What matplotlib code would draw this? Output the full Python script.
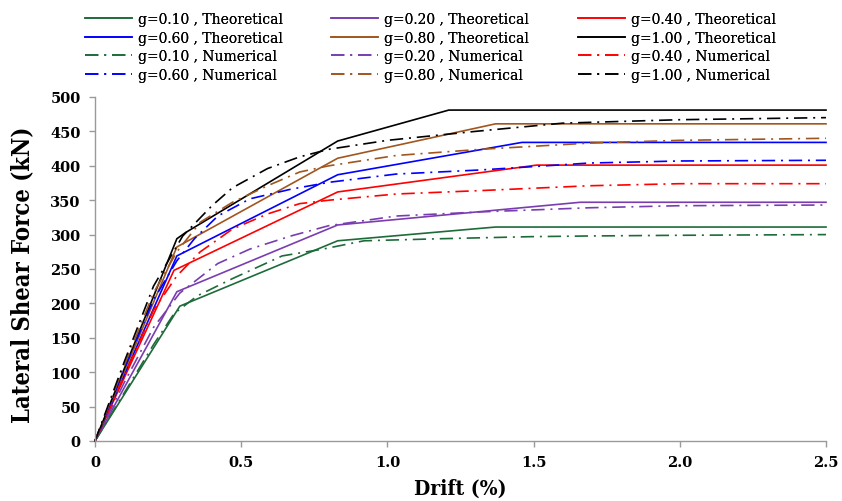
import matplotlib
matplotlib.use("Agg")
import matplotlib.pyplot as plt

# ---------------- data ----------------
g_labels = ["0.10", "0.20", "0.40", "0.60", "0.80", "1.00"]
colors = ["#1E6B3A", "#7A3DB0", "#FF0000", "#0000FF", "#A0561E", "#000000"]

theo_x_010 = [0, 0.29, 0.83, 1.37, 2.5]
theo_y_010 = [0, 196, 291, 311, 311]
theo_x_020 = [0, 0.28, 0.83, 1.66, 2.5]
theo_y_020 = [0, 217, 314, 347, 347]
theo_x_040 = [0, 0.27, 0.83, 1.51, 2.5]
theo_y_040 = [0, 248, 362, 401, 401]
theo_x_060 = [0, 0.28, 0.83, 1.46, 2.5]
theo_y_060 = [0, 269, 387, 434, 434]
theo_x_080 = [0, 0.28, 0.83, 1.37, 2.5]
theo_y_080 = [0, 282, 411, 461, 461]
theo_x_100 = [0, 0.28, 0.31, 0.83, 1.21, 2.5]
theo_y_100 = [0, 294, 303, 436, 481, 481]

num_x_010 = [0, 0.1, 0.2, 0.27, 0.35, 0.47, 0.64, 0.78, 0.92, 1.18, 1.49, 1.69, 2.0, 2.5]
num_y_010 = [0, 70, 140, 185, 211, 236, 269, 279, 291, 294, 297, 298, 299, 300]
num_x_020 = [0, 0.1, 0.2, 0.29, 0.42, 0.53, 0.67, 0.8, 1.03, 1.32, 1.69, 2.0, 2.5]
num_y_020 = [0, 85, 165, 215, 258, 279, 298, 313, 327, 333, 339, 342, 343]
num_x_040 = [0, 0.1, 0.2, 0.28, 0.36, 0.47, 0.59, 0.70, 0.8, 1.03, 1.32, 1.69, 2.0, 2.5]
num_y_040 = [0, 95, 190, 240, 275, 308, 330, 345, 350, 359, 364, 371, 374, 374]
num_x_060 = [0, 0.1, 0.2, 0.28, 0.34, 0.42, 0.53, 0.67, 0.8, 1.03, 1.32, 1.69, 2.0, 2.5]
num_y_060 = [0, 105, 205, 262, 294, 327, 352, 366, 376, 388, 394, 404, 407, 408]
num_x_080 = [0, 0.1, 0.2, 0.28, 0.36, 0.47, 0.59, 0.7, 0.8, 1.03, 1.32, 1.69, 2.0, 2.5]
num_y_080 = [0, 110, 215, 275, 318, 347, 371, 391, 400, 415, 424, 433, 437, 440]
num_x_100 = [0, 0.1, 0.2, 0.3, 0.35, 0.4, 0.47, 0.59, 0.7, 0.8, 1.0, 1.3, 1.6, 2.0, 2.5]
num_y_100 = [0, 115, 225, 298, 320, 342, 368, 396, 413, 424, 437, 450, 462, 467, 470]

theo = [(theo_x_010, theo_y_010), (theo_x_020, theo_y_020), (theo_x_040, theo_y_040),
        (theo_x_060, theo_y_060), (theo_x_080, theo_y_080), (theo_x_100, theo_y_100)]
num = [(num_x_010, num_y_010), (num_x_020, num_y_020), (num_x_040, num_y_040),
       (num_x_060, num_y_060), (num_x_080, num_y_080), (num_x_100, num_y_100)]

x_ticks = [0, 0.5, 1.0, 1.5, 2.0, 2.5]
x_tick_labels = ["0", "0.5", "1.0", "1.5", "2.0", "2.5"]
y_ticks = list(range(0, 501, 50))

# ---------------- figure ----------------
W, H = 842, 502
fig = plt.figure(figsize=(W/100, H/100), dpi=100)
ax = fig.add_axes([95/W, 1-442/H, (826-95)/W, (442-98)/H])

lw = 1.2
dashdot = (0, (8, 3.5, 1.2, 3.5))
th_handles, nu_handles = [], []
for i, g in enumerate(g_labels):
    h, = ax.plot(theo[i][0], theo[i][1], color=colors[i], lw=lw, ls='-',
                 label=f"g={g} , Theoretical", clip_on=False)
    th_handles.append(h)
for i, g in enumerate(g_labels):
    h, = ax.plot(num[i][0], num[i][1], color=colors[i], lw=lw, ls=dashdot,
                 label=f"g={g} , Numerical", clip_on=False)
    nu_handles.append(h)

ax.set_xlim(0, 2.5)
ax.set_ylim(0, 500)
ax.set_xticks(x_ticks)
ax.set_xticklabels(x_tick_labels)
ax.set_yticks(y_ticks)

gray = "#9A9A9A"
for s in ["top", "right"]:
    ax.spines[s].set_visible(False)
for s in ["left", "bottom"]:
    ax.spines[s].set_color(gray)
    ax.spines[s].set_linewidth(1.0)
ax.tick_params(axis="both", direction="out", length=4.3, width=1.0, color=gray)
ax.tick_params(axis="y", pad=6)
ax.tick_params(axis="x", pad=5.5)
for lab in ax.get_xticklabels() + ax.get_yticklabels():
    lab.set_fontfamily("DejaVu Serif")
    lab.set_fontweight("bold")
    lab.set_fontsize(10.5)

ax.set_xlabel("Drift (%)", fontfamily="DejaVu Serif", fontweight="bold",
              fontstretch="condensed", fontsize=15)
ax.set_ylabel("Lateral Shear Force (kN)", fontfamily="DejaVu Serif", fontweight="bold",
              fontstretch="condensed", fontsize=17)
ax.xaxis.set_label_coords(0.5, (442-479)/344)
ax.yaxis.set_label_coords((34-95)/731, 0.485)

# legend: three columns, each placed explicitly
cols_x = [85, 331, 578]
cols = [[th_handles[0], th_handles[3], nu_handles[0], nu_handles[3]],
        [th_handles[1], th_handles[4], nu_handles[1], nu_handles[4]],
        [th_handles[2], th_handles[5], nu_handles[2], nu_handles[5]]]
for cx, hs in zip(cols_x, cols):
    leg = fig.legend(handles=hs, labels=[h.get_label() for h in hs], ncol=1,
                     loc="upper left", bbox_to_anchor=(cx/W, 1-13/H),
                     frameon=False, handlelength=3.4, handletextpad=0.45,
                     labelspacing=0.33, borderpad=0, borderaxespad=0,
                     prop={"family": "DejaVu Serif", "size": 10})
    fig.add_artist(leg)

fig.savefig("out.png", dpi=100)
